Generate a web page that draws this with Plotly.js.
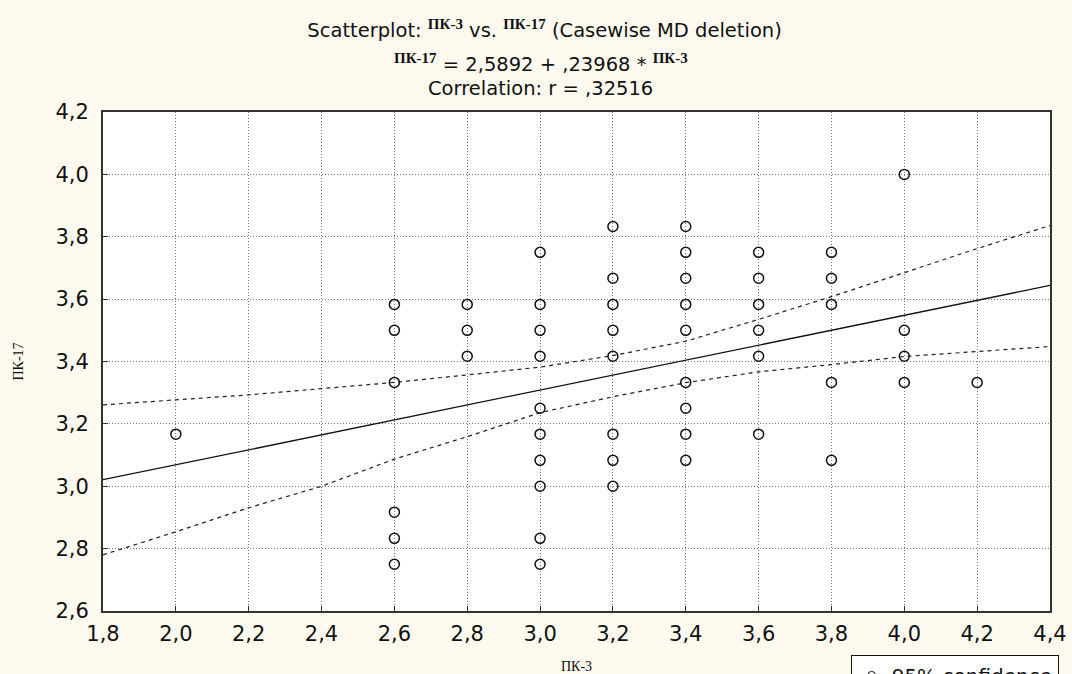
<!DOCTYPE html>
<html><head><meta charset="utf-8">
<script src="https://cdn.plot.ly/plotly-3.0.1.min.js"></script>
<style>html,body{margin:0;padding:0;background:#fffaef;}</style>
</head><body>
<div id="chart" style="width:1072px;height:674px;"></div>
<script>
// Observed points (ПК-3, ПК-17)
const pk3 = [2.0,
  2.6,2.6,2.6,2.6,2.6,2.6,
  2.8,2.8,2.8,
  3.0,3.0,3.0,3.0,3.0,3.0,3.0,3.0,3.0,3.0,
  3.2,3.2,3.2,3.2,3.2,3.2,3.2,3.2,
  3.4,3.4,3.4,3.4,3.4,3.4,3.4,3.4,3.4,
  3.6,3.6,3.6,3.6,3.6,3.6,
  3.8,3.8,3.8,3.8,3.8,
  4.0,4.0,4.0,4.0,
  4.2];
const pk17 = [3.167,
  3.583,3.5,3.333,2.917,2.833,2.75,
  3.583,3.5,3.417,
  3.75,3.583,3.5,3.417,3.25,3.167,3.083,3.0,2.833,2.75,
  3.833,3.667,3.583,3.5,3.417,3.167,3.083,3.0,
  3.833,3.75,3.667,3.583,3.5,3.333,3.25,3.167,3.083,
  3.75,3.667,3.583,3.5,3.417,3.167,
  3.75,3.667,3.583,3.333,3.083,
  4.0,3.5,3.417,3.333,
  3.333];
// Regression line (read at the plot edges)
const regX = [1.8, 4.4];
const regY = [3.021, 3.644];
// 95% confidence band
const bandX = [1.8,2.0,2.2,2.4,2.6,2.8,3.0,3.2,3.4,3.6,3.8,4.0,4.2,4.4];
const bandUpper = [3.261,3.277,3.293,3.313,3.333,3.357,3.382,3.419,3.465,3.535,3.608,3.685,3.762,3.836];
const bandLower = [2.780,2.854,2.931,3.000,3.087,3.159,3.236,3.287,3.332,3.367,3.390,3.416,3.432,3.448];
// Ticks
const xTicks = [1.8,2.0,2.2,2.4,2.6,2.8,3.0,3.2,3.4,3.6,3.8,4.0,4.2,4.4];
const yTicks = [2.6,2.8,3.0,3.2,3.4,3.6,3.8,4.0,4.2];

const serif = "'Liberation Serif', 'DejaVu Serif', serif";
const sans = "'DejaVu Sans', 'Liberation Sans', sans-serif";
const pk = t => `<span style="font-family:${serif};font-weight:bold;font-size:15px">${t}</span>`;

const traces = [
  {x: bandX, y: bandUpper, mode:'lines', line:{color:'#222', width:1.2, dash:'4px,4px'}, showlegend:false, hoverinfo:'skip'},
  {x: bandX, y: bandLower, mode:'lines', line:{color:'#222', width:1.2, dash:'4px,4px'}, showlegend:false, hoverinfo:'skip'},
  {x: regX, y: regY, mode:'lines', line:{color:'#111', width:1.3}, showlegend:false},
  {x: pk3, y: pk17, mode:'markers', marker:{symbol:'circle-open', size:10, color:'#111', line:{width:1.5}}, showlegend:false},
  {x:[null], y:[null], mode:'lines+markers', name:'95% confidence', line:{color:'#111', width:1}, marker:{symbol:'circle-open', size:8, color:'#111'}, showlegend:true}
];

const layout = {
  width:1072, height:674,
  paper_bgcolor:'#fffaef', plot_bgcolor:'#ffffff',
  separators:', ',
  margin:{l:103, r:22, t:112, b:63, autoexpand:false},
  font:{family:sans, color:'#111', size:20},
  title:{text:`Scatterplot: <sup>${pk('ПК-3')}</sup> vs. <sup>${pk('ПК-17')}</sup> (Casewise MD deletion)`,
         font:{family:sans, size:19.5, color:'#111'}, x:0.508, xanchor:'center', y:0.955, yanchor:'middle'},
  annotations:[
    {text:`<sup>${pk('ПК-17')}</sup> = 2,5892 + ,23968 * <sup>${pk('ПК-3')}</sup>`, xref:'paper', yref:'paper', x:0.462, y:1.098, xanchor:'center', yanchor:'middle', showarrow:false, font:{family:sans, size:19.5, color:'#111'}},
    {text:'Correlation: r = ,32516', xref:'paper', yref:'paper', x:0.462, y:1.047, xanchor:'center', yanchor:'middle', showarrow:false, font:{family:sans, size:19.5, color:'#111'}}
  ],
  xaxis:{range:[1.8,4.4], tickvals:xTicks, tickformat:'.1f', showgrid:true, gridcolor:'#777', griddash:'1px,2px', gridwidth:1,
         zeroline:false, showline:true, linecolor:'#333', linewidth:2, mirror:true, ticks:'inside', ticklen:5, tickcolor:'#333',
         ticklabelstandoff:3,
         tickfont:{family:sans, size:21}, title:{text:'ПК-3', font:{family:serif, size:14}, standoff:16}},
  yaxis:{range:[2.6,4.2], tickvals:yTicks, tickformat:'.1f', showgrid:true, gridcolor:'#777', griddash:'1px,2px', gridwidth:1,
         zeroline:false, showline:true, linecolor:'#333', linewidth:2, mirror:true, ticks:'inside', ticklen:5, tickcolor:'#333',
         ticklabelstandoff:8,
         tickfont:{family:sans, size:21}, title:{text:'ПК-17', font:{family:serif, size:14}, standoff:28}},
  legend:{x:0.7895, xanchor:'left', xref:'paper', y:-0.088, yanchor:'top', bgcolor:'#ffffff', bordercolor:'#111', borderwidth:1,
          font:{family:sans, size:20}, itemwidth:30}
};
Plotly.newPlot('chart', traces, layout, {displayModeBar:false});
</script>
</body></html>
